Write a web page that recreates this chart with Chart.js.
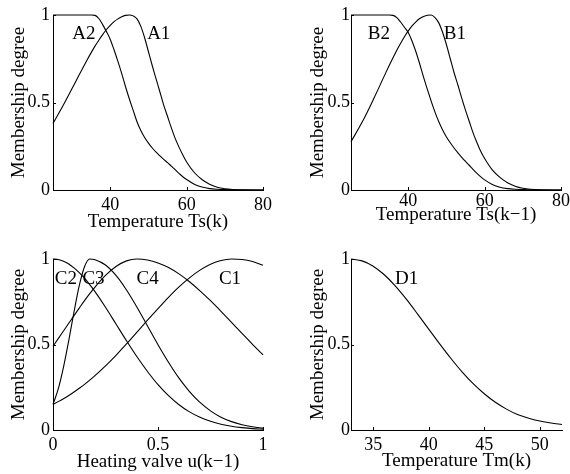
<!DOCTYPE html>
<html>
<head>
<meta charset="utf-8">
<script src="https://cdn.jsdelivr.net/npm/chart.js@4.4.1/dist/chart.umd.min.js"></script>
<style>
body { margin: 0; background: #fff; }
#wrap { position: relative; width: 570px; height: 474px; }
canvas { position: absolute; }
</style>
</head>
<body>
<div id="wrap">
  <canvas id="panelA" width="285" height="237" style="left:0;top:0"></canvas>
  <canvas id="panelB" width="285" height="237" style="left:285px;top:0"></canvas>
  <canvas id="panelC" width="285" height="237" style="left:0;top:237px"></canvas>
  <canvas id="panelD" width="285" height="237" style="left:285px;top:237px"></canvas>
</div>
<script>
// Temperature Ts(k) / Ts(k-1) panels
const tempX = [25, 28, 31, 34, 35, 36, 37, 38, 39, 40, 41, 42, 43, 44, 45, 46, 47, 48, 49, 50,
               51, 52, 53, 54, 55, 56, 57, 58, 59, 60, 62, 64, 66, 68, 70, 72, 75, 80];
const a1 = [0.38, 0.497, 0.622, 0.746, 0.785, 0.822, 0.856, 0.888, 0.917, 0.941, 0.962, 0.978, 0.99, 0.998, 1, 0.995, 0.978, 0.935, 0.87, 0.79,
            0.71, 0.635, 0.56, 0.485, 0.42, 0.355, 0.295, 0.245, 0.2, 0.16, 0.1, 0.06, 0.033, 0.016, 0.007, 0.003, 0.001, 0];
const a2 = [1, 1, 1, 1, 1, 0.998, 0.98, 0.945, 0.905, 0.86, 0.8, 0.735, 0.665, 0.59, 0.52, 0.455, 0.39, 0.34, 0.3, 0.268,
            0.24, 0.216, 0.195, 0.175, 0.156, 0.136, 0.116, 0.095, 0.076, 0.06, 0.033, 0.017, 0.008, 0.004, 0.002, 0.001, 0, 0];
const b1 = [0.276, 0.391, 0.524, 0.665, 0.711, 0.756, 0.799, 0.839, 0.876, 0.909, 0.938, 0.961, 0.98, 0.992, 0.999, 1, 0.985, 0.955, 0.9, 0.83,
            0.75, 0.67, 0.6, 0.525, 0.455, 0.39, 0.325, 0.27, 0.22, 0.18, 0.115, 0.072, 0.042, 0.022, 0.01, 0.004, 0.001, 0];
const b2 = [1, 1, 1, 1, 1, 0.998, 0.985, 0.96, 0.93, 0.9, 0.85, 0.79, 0.72, 0.645, 0.575, 0.508, 0.445, 0.39, 0.343, 0.303,
            0.27, 0.24, 0.212, 0.187, 0.163, 0.14, 0.117, 0.095, 0.075, 0.058, 0.032, 0.016, 0.008, 0.004, 0.002, 0.001, 0, 0];

// Heating valve u(k-1) panel
const valveX = [0, 0.025, 0.05, 0.075, 0.1, 0.125, 0.15, 0.175, 0.2, 0.25, 0.3, 0.35, 0.4,
                0.45, 0.5, 0.55, 0.6, 0.65, 0.7, 0.75, 0.8, 0.85, 0.9, 0.95, 1];
const c1 = [0.15, 0.166, 0.183, 0.202, 0.222, 0.244, 0.267, 0.292, 0.318, 0.375, 0.437, 0.503, 0.572,
            0.642, 0.71, 0.776, 0.837, 0.89, 0.935, 0.969, 0.991, 1, 0.997, 0.985, 0.963];
const c2 = [1, 0.997, 0.987, 0.971, 0.948, 0.92, 0.888, 0.85, 0.809, 0.718, 0.62, 0.522, 0.428,
            0.342, 0.265, 0.201, 0.148, 0.106, 0.074, 0.051, 0.034, 0.022, 0.014, 0.008, 0.005];
const c3 = [0.15, 0.24, 0.368, 0.523, 0.69, 0.844, 0.955, 1, 0.996, 0.965, 0.904, 0.819, 0.718,
            0.608, 0.499, 0.396, 0.303, 0.225, 0.161, 0.112, 0.075, 0.049, 0.031, 0.019, 0.011];
const c4 = [0.49, 0.534, 0.579, 0.624, 0.669, 0.713, 0.757, 0.798, 0.836, 0.904, 0.956, 0.989, 1,
            0.994, 0.977, 0.95, 0.913, 0.867, 0.814, 0.756, 0.694, 0.63, 0.565, 0.501, 0.44];

// Temperature Tm(k) panel
const tmX = [33, 34, 35, 36, 37, 38, 39, 40, 41, 42, 43, 44, 45, 46, 47, 48, 49, 50, 51, 52];
const d1 = [1, 0.989, 0.958, 0.908, 0.842, 0.764, 0.678, 0.59, 0.502, 0.418, 0.34, 0.271, 0.212, 0.162,
            0.122, 0.09, 0.069, 0.053, 0.041, 0.032];

// Tick labels
const tempTicks = [40, 60, 80];
const valveTicks = [0, 0.5, 1];
const tmTicks = [35, 40, 45, 50];
const degreeTicks = [0, 0.5, 1];

// Curve names [text, x, y] in data units
const namesA = [['A2', 33.1, 0.89], ['A1', 52.7, 0.89]];
const namesB = [['B2', 32.3, 0.89], ['B1', 52.2, 0.89]];
const namesC = [['C2', 0.061, 0.885], ['C3', 0.193, 0.885], ['C4', 0.451, 0.885], ['C1', 0.843, 0.885]];
const namesD = [['D1', 38.0, 0.885]];

const SERIF = '"Liberation Serif", "Times New Roman", serif';

// small inward tick marks like the original plot
const innerTicks = {
    id: 'innerTicks',
    afterDraw(chart) {
        const { ctx, chartArea, scales: { x, y } } = chart;
        ctx.save();
        ctx.strokeStyle = '#000';
        ctx.lineWidth = 1;
        ctx.beginPath();
        x.ticks.forEach(t => {
            const px = Math.round(x.getPixelForValue(t.value)) + 0.5;
            ctx.moveTo(px, chartArea.bottom);
            ctx.lineTo(px, chartArea.bottom - 3);
        });
        y.ticks.forEach(t => {
            const py = Math.round(y.getPixelForValue(t.value)) + 0.5;
            ctx.moveTo(chartArea.left, py);
            ctx.lineTo(chartArea.left + 3, py);
        });
        ctx.stroke();
        ctx.restore();
    }
};

// curve names written inside the plot
const curveNames = {
    id: 'curveNames',
    afterDatasetsDraw(chart, args, opts) {
        const { ctx, scales: { x, y } } = chart;
        ctx.save();
        ctx.font = '19px ' + SERIF;
        ctx.fillStyle = '#000';
        ctx.textAlign = 'center';
        ctx.textBaseline = 'middle';
        opts.names.forEach(n => {
            ctx.fillText(n[0], x.getPixelForValue(n[1]), y.getPixelForValue(n[2]));
        });
        ctx.restore();
    }
};

function makePanel(canvasId, p) {
    const ctx = document.getElementById(canvasId).getContext('2d');
    return new Chart(ctx, {
        type: 'line',
        data: {
            datasets: p.series.map(ys => ({
                data: p.xs.map((x, i) => ({ x: x, y: ys[i] })),
                borderColor: '#000',
                borderWidth: 1.1,
                pointRadius: 0,
                fill: false,
                clip: false,
                cubicInterpolationMode: 'monotone'
            }))
        },
        options: {
            responsive: false,
            animation: false,
            devicePixelRatio: 1,
            layout: { padding: { top: p.padTop, right: p.padRight, left: 0, bottom: 0 } },
            plugins: {
                legend: { display: false },
                tooltip: { enabled: false },
                curveNames: { names: p.names }
            },
            scales: {
                x: {
                    type: 'linear',
                    min: p.xMin,
                    max: p.xMax,
                    afterBuildTicks: s => { s.ticks = p.xTicks.map(v => ({ value: v })); },
                    afterFit: s => { s.height = p.xAxisHeight; },
                    grid: { display: false, drawTicks: false },
                    border: { display: true, color: '#000', width: 1 },
                    ticks: {
                        color: '#000',
                        font: { family: SERIF, size: 18 },
                        padding: p.xTickPad,
                        maxRotation: 0,
                        autoSkip: false,
                        callback: v => String(v)
                    },
                    title: {
                        display: true,
                        text: p.xTitle,
                        color: '#000',
                        font: { family: SERIF, size: 19 },
                        padding: { top: 0, bottom: p.xTitlePad }
                    }
                },
                y: {
                    type: 'linear',
                    min: 0,
                    max: 1,
                    afterBuildTicks: s => { s.ticks = degreeTicks.map(v => ({ value: v })); },
                    afterFit: s => { s.width = p.yAxisWidth; },
                    grid: { display: false, drawTicks: false },
                    border: { display: true, color: '#000', width: 1 },
                    ticks: {
                        color: '#000',
                        font: { family: SERIF, size: 18 },
                        padding: p.yTickPad,
                        callback: v => String(v)
                    },
                    title: {
                        display: true,
                        text: 'Membership degree',
                        color: '#000',
                        font: { family: SERIF, size: 19 },
                        padding: { top: p.yTitlePad, bottom: 0 }
                    }
                }
            }
        },
        plugins: [innerTicks, curveNames]
    });
}

makePanel('panelA', {
    xs: tempX, series: [a1, a2], names: namesA,
    xMin: 25, xMax: 80, xTicks: tempTicks, xTitle: 'Temperature Ts(k)',
    padTop: 15, padRight: 22, yAxisWidth: 53, xAxisHeight: 47,
    xTickPad: 4, yTickPad: 3, xTitlePad: 4, yTitlePad: 8
});

makePanel('panelB', {
    xs: tempX, series: [b1, b2], names: namesB,
    xMin: 25, xMax: 80, xTicks: tempTicks, xTitle: 'Temperature Ts(k\u22121)',
    padTop: 15, padRight: 8, yAxisWidth: 66, xAxisHeight: 47,
    xTickPad: 0, yTickPad: 1, xTitlePad: 11, yTitlePad: 22
});

makePanel('panelC', {
    xs: valveX, series: [c1, c2, c3, c4], names: namesC,
    xMin: 0, xMax: 1, xTicks: valveTicks, xTitle: 'Heating valve u(k\u22121)',
    padTop: 22, padRight: 22, yAxisWidth: 53, xAxisHeight: 44,
    xTickPad: 4, yTickPad: 3, xTitlePad: 1, yTitlePad: 8
});

makePanel('panelD', {
    xs: tmX, series: [d1], names: namesD,
    xMin: 33, xMax: 52, xTicks: tmTicks, xTitle: 'Temperature Tm(k)',
    padTop: 22, padRight: 8, yAxisWidth: 66, xAxisHeight: 44,
    xTickPad: 4, yTickPad: 1, xTitlePad: 2, yTitlePad: 22
});
</script>
</body>
</html>
